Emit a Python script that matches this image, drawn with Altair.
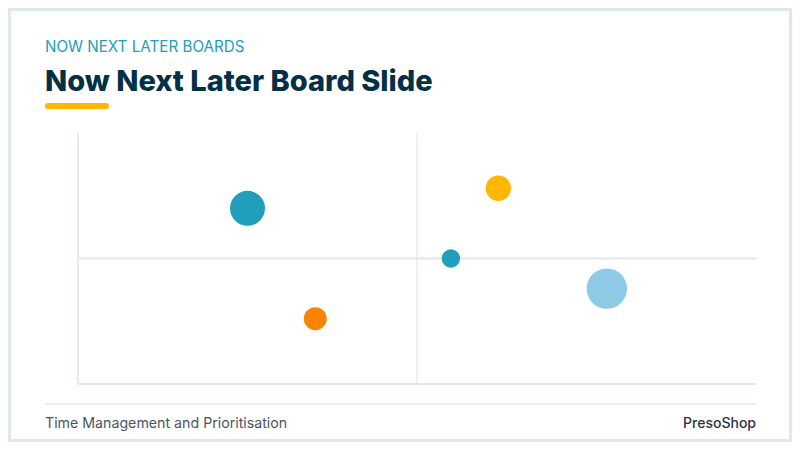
import altair as alt
import pandas as pd

kicker = "NOW NEXT LATER BOARDS"
headline = "Now Next Later Board Slide"
footer_left = "Time Management and Prioritisation"
footer_right = "PresoShop"

# bubbles (0-10 on both axes)
items = ["Item 1", "Item 2", "Item 3", "Item 4", "Item 5"]
groups = ["Now", "Later", "Now", "Next", "Backlog"]
effort = [2.5, 3.5, 5.5, 6.2, 7.8]
value = [7.0, 2.6, 5.0, 7.8, 3.8]
impact = [72, 31, 20, 38, 96]

group_order = ["Now", "Next", "Later", "Backlog"]
group_colors = ["#219ebc", "#ffb703", "#fb8500", "#8ecae6"]

x_domain = [0, 10]
y_domain = [0, 10]
x_split = 5
y_split = 5

W, H = 784, 434
LINE = "#dfe8eb"
FONT = "Inter"

df = pd.DataFrame({"item": items, "group": groups, "effort": effort,
                   "value": value, "impact": impact})
one = alt.Data(values=[{}])

xs = alt.Scale(domain=x_domain, range=[70, 748], nice=False, zero=False)
ys = alt.Scale(domain=y_domain, range=[376, 125], nice=False, zero=False)


def hline(y, width):
    return alt.Chart(one).mark_rule(color=LINE, strokeWidth=width).encode(
        x=alt.XDatum(x_domain[0], scale=xs, axis=None),
        x2=alt.X2Datum(x_domain[1]),
        y=alt.YDatum(y, scale=ys, axis=None),
    )


def vline(x, width):
    return alt.Chart(one).mark_rule(color=LINE, strokeWidth=width).encode(
        x=alt.XDatum(x, scale=xs, axis=None),
        y=alt.YDatum(y_domain[0], scale=ys, axis=None),
        y2=alt.Y2Datum(y_domain[1]),
    )


def label(text, x, y, size, color, weight="normal", align="left"):
    return alt.Chart(one).mark_text(
        text=text, font=FONT, fontSize=size, color=color, fontWeight=weight,
        align=align, baseline="alphabetic"
    ).encode(x=alt.value(x), y=alt.value(y))


bubbles = alt.Chart(df).mark_circle(opacity=1).encode(
    x=alt.X("effort:Q", scale=xs, axis=None),
    y=alt.Y("value:Q", scale=ys, axis=None),
    size=alt.Size("impact:Q", scale=alt.Scale(domain=[0, 100], range=[0, 1700]), legend=None),
    color=alt.Color("group:N", scale=alt.Scale(domain=group_order, range=group_colors), legend=None),
    tooltip=["item", "group", "effort", "value", "impact"],
)

frame = alt.Chart(one).mark_rect(fill="white", stroke=LINE, strokeWidth=3).encode(
    x=alt.value(1.5), x2=alt.value(W - 1.5), y=alt.value(1.5), y2=alt.value(H - 1.5)
)
accent = alt.Chart(one).mark_rule(color="#ffb703", strokeWidth=6, strokeCap="round").encode(
    x=alt.value(40), x2=alt.value(98), y=alt.value(98)
)
footer_rule = alt.Chart(one).mark_rule(color=LINE, strokeWidth=1.5).encode(
    x=alt.value(37), x2=alt.value(748), y=alt.value(396)
)

chart = alt.layer(
    frame,
    vline(x_split, 1.2),
    hline(y_split, 1.8),
    vline(x_domain[0], 1.6),
    hline(y_domain[0], 2.2),
    bubbles,
    accent,
    footer_rule,
    label(kicker, 37, 44, 15.2, "#219ebc"),
    label(headline, 37, 83, 29, "#023047", weight=800),
    label(footer_left, 37, 420, 14.2, "#4a5560"),
    label(footer_right, 748, 420, 14, "#2b3440", weight=500, align="right"),
).properties(
    width=W, height=H, padding=0, autosize=alt.AutoSizeParams(type="none")
).configure_view(stroke=None).configure(background="white")

chart.save("out.html", embed_options={"renderer": "svg", "actions": False})
